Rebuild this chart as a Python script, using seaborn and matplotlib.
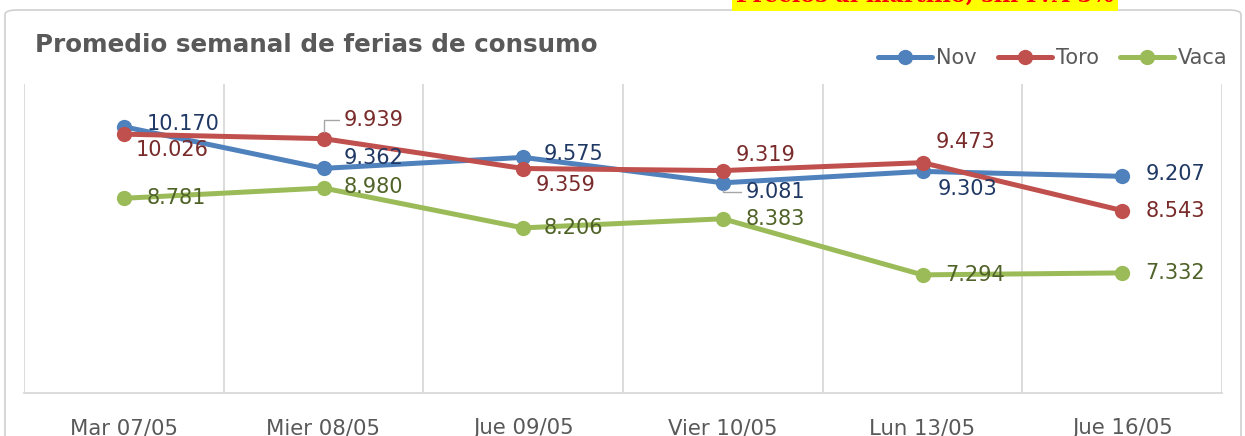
import pandas as pd
import seaborn as sns
import matplotlib.pyplot as plt
from matplotlib.lines import Line2D
from matplotlib.patches import FancyBboxPatch

# Data
dias = ['Mar 07/05', 'Mier 08/05', 'Jue 09/05', 'Vier 10/05', 'Lun 13/05', 'Jue 16/05']
nov = [10.170, 9.362, 9.575, 9.081, 9.303, 9.207]
toro = [10.026, 9.939, 9.359, 9.319, 9.473, 8.543]
vaca = [8.781, 8.980, 8.206, 8.383, 7.294, 7.332]
series = ['Nov', 'Toro', 'Vaca']

# Styling
line_colors = {'Nov': '#4F81BD', 'Toro': '#C0504D', 'Vaca': '#9BBB59'}
label_colors = {'Nov': '#203864', 'Toro': '#782B2A', 'Vaca': '#4F6228'}
# label offsets in pixels (dx, dy) from each point
offsets = {
    'Nov': [(23, 3), (20, 10), (20, 3), (23, -9), (15, -18), (23, 2)],
    'Toro': [(12, -16), (20, 19), (12, -16), (13, 16), (13, 21), (23, 0)],
    'Vaca': [(23, 0), (20, 1), (20, 0), (23, 0), (23, 0), (23, 0)],
}
leaders = {('Toro', 1), ('Nov', 3)}

sns.set_style('white')
plt.rcParams['font.family'] = ['DejaVu Sans']

# Long-form table for seaborn
rows = []
for name, vals in zip(series, [nov, toro, vaca]):
    for i, v in enumerate(vals):
        rows.append({'pos': i, 'valor': v, 'serie': name})
df = pd.DataFrame(rows)

fig = plt.figure(figsize=(12.45, 4.36), dpi=100)
W, H = 1245, 436

# Outer chart frame
frame = FancyBboxPatch((5 / W, -0.05), 1236 / W, 1.05 - 10 / H,
                       boxstyle='round,pad=0,rounding_size=0.01',
                       transform=fig.transFigure, facecolor='none',
                       edgecolor='#D0D0D0', linewidth=1.2, zorder=-1)
fig.patches.append(frame)

# Cut-off header box above the chart
fig.text(736 / W, 1 - 2 / H, 'Precios al martillo, sin IVA 5%', color='#FF0000',
         fontsize=16, fontweight='bold', family='DejaVu Serif', va='baseline', ha='left',
         bbox=dict(facecolor='#FFFF00', edgecolor='none', pad=3))

ax = fig.add_axes([24 / W, 1 - 393 / H, (1222 - 24) / W, (393 - 84) / H])
ax.set_facecolor('none')

sns.lineplot(data=df, x='pos', y='valor', hue='serie', palette=line_colors,
             marker='o', markersize=11, markeredgewidth=0, linewidth=3.6,
             legend=False, ax=ax, zorder=3)

ax.set_xlim(-0.5, 5.5)
ax.set_ylim(5, 11)
ax.set_xticks(range(len(dias)))
ax.set_xticklabels(dias, fontsize=15.3, color='#595959')
ax.set_xticks([i - 0.5 for i in range(len(dias) + 1)], minor=True)
ax.tick_params(axis='x', which='both', length=0, pad=18)
ax.set_yticks([])
ax.set_xlabel('')
ax.set_ylabel('')
ax.grid(axis='x', which='minor', color='#D9D9D9', linewidth=1.3)
ax.grid(axis='x', which='major', visible=False)
for side in ['top', 'left', 'right']:
    ax.spines[side].set_visible(False)
ax.spines['bottom'].set_color('#D9D9D9')
ax.spines['bottom'].set_linewidth(1.3)

# Data labels
for name, vals in zip(series, [nov, toro, vaca]):
    for i, v in enumerate(vals):
        dx, dy = offsets[name][i]
        txt = f'{v:.3f}'
        kw = {}
        if (name, i) in leaders:
            kw['arrowprops'] = dict(arrowstyle='-', color='#A6A6A6', lw=1,
                                    shrinkA=1, shrinkB=5,
                                    connectionstyle='angle,angleA=0,angleB=90,rad=0')
        ax.annotate(txt, (i, v), xytext=(dx, dy), textcoords='offset pixels',
                    ha='left', va='center', fontsize=15, color=label_colors[name],
                    zorder=5, **kw)

# Title
fig.text(35 / W, 1 - 45 / H, 'Promedio semanal de ferias de consumo', fontsize=17.7,
         fontweight='bold', color='#595959', ha='left', va='center')

# Legend
handles = [Line2D([0], [0], color=line_colors[s], lw=3.6, marker='o', markersize=11,
                  markeredgewidth=0) for s in series]
fig.legend(handles, series, loc='center right', bbox_to_anchor=(1236 / W, 1 - 58 / H),
           ncol=3, frameon=False, fontsize=15, labelcolor='#595959', handlelength=2.6,
           handletextpad=0.2, columnspacing=1.0, borderaxespad=0)

fig.savefig('out.png', dpi=100)
